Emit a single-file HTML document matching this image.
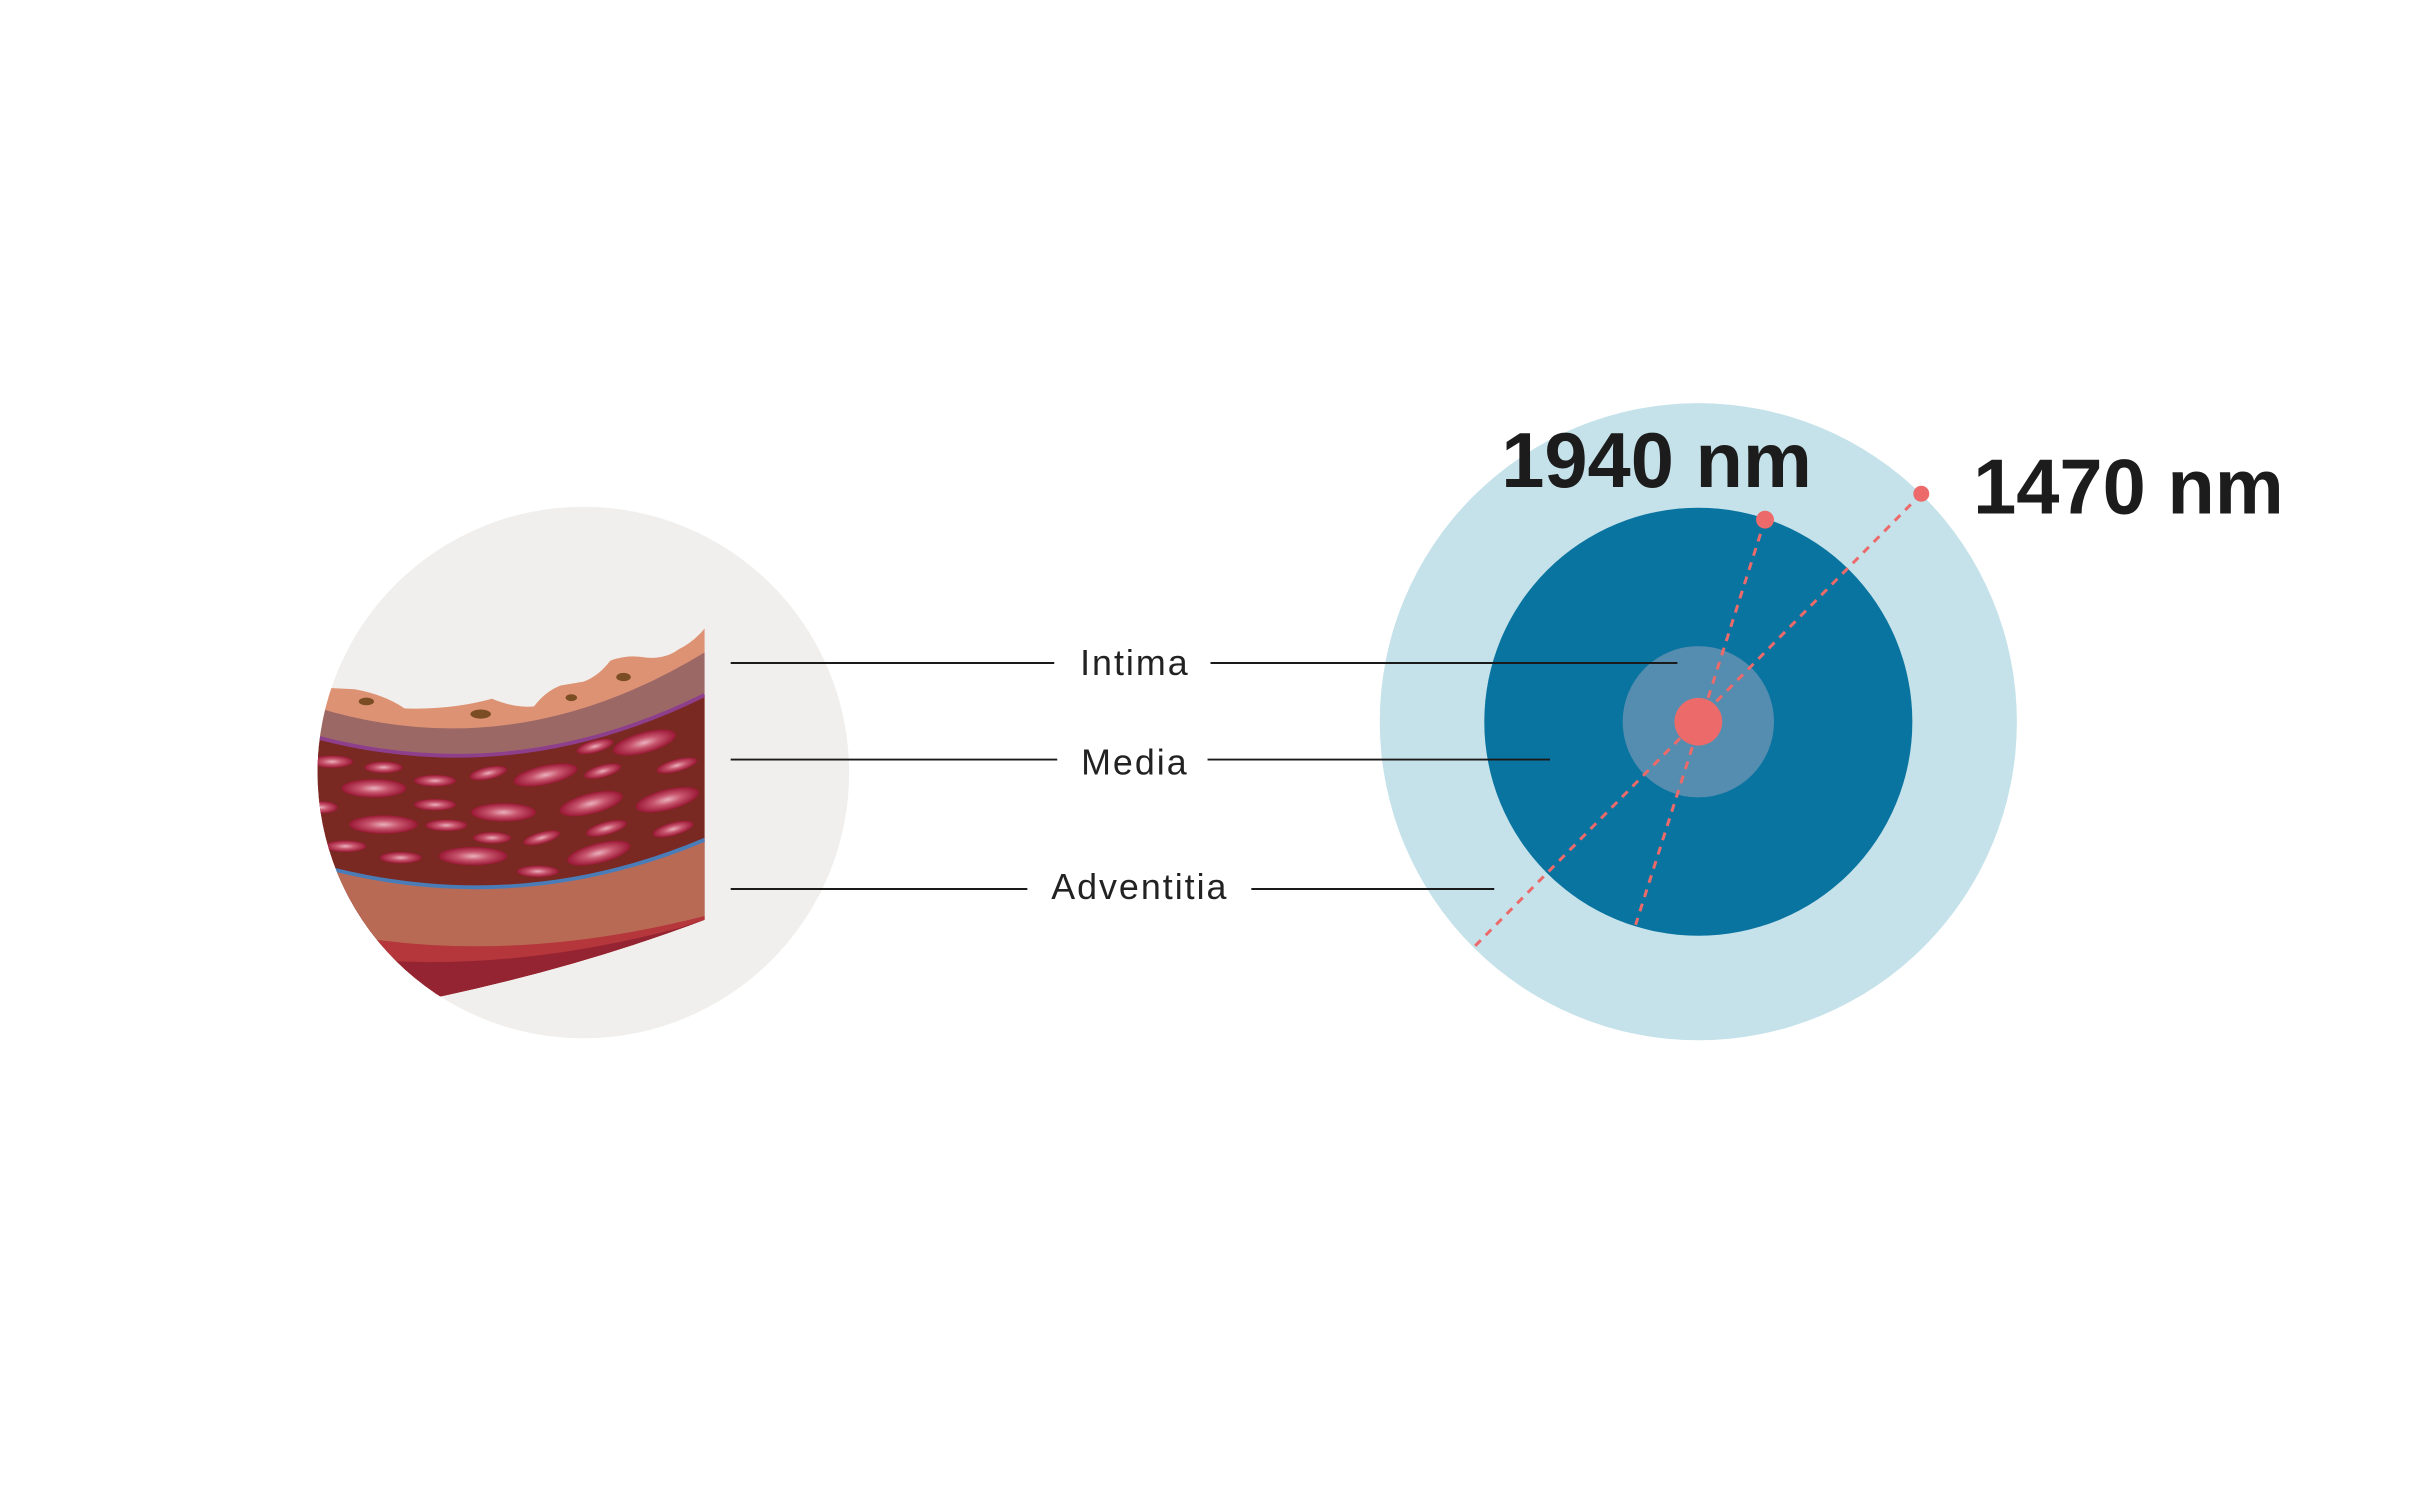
<!DOCTYPE html>
<html><head><meta charset="utf-8"><style>
html,body{margin:0;padding:0;background:#fff;}
svg{display:block;}
</style></head><body>
<svg width="2432" height="1494" viewBox="0 0 2432 1494" xmlns="http://www.w3.org/2000/svg">
<defs>
<radialGradient id="cell" cx="0.5" cy="0.5" r="0.5">
<stop offset="0" stop-color="#eab0bd"/>
<stop offset="0.45" stop-color="#c8566e"/>
<stop offset="1" stop-color="#9a1835"/>
</radialGradient>
<clipPath id="cc2"><circle cx="800" cy="773" r="698"/></clipPath>
<clipPath id="rr"><rect x="0" y="0" width="1118" height="1600"/></clipPath>
</defs>
<rect width="2432" height="1494" fill="#fff"/>
<g transform="scale(0.9955)">
<circle cx="586" cy="776" r="267" fill="#f0efed"/>
<g transform="translate(280,480) scale(0.3827)">
<g clip-path="url(#cc2)">
<g clip-path="url(#rr)">
<path d="M60,550 L100,550 L200,555 Q280,570 330,605 Q450,610 560,580 Q620,605 670,600 Q700,560 740,545 L800,535 Q840,520 870,480 Q910,465 950,470 Q1010,480 1050,450 Q1090,430 1118,395 L1118,1160 Q800,1280 430,1360 L60,1400 Z" fill="#de9274"/>
<path d="M60,590 Q600,774 1118,458 L1118,1160 Q800,1280 430,1360 L60,1400 Z" fill="#9c6866"/>
<path d="M60,670 Q600,827 1118,570 L1118,1160 Q800,1280 430,1360 L60,1400 Z" fill="#7a2822"/>
<path d="M60,670 Q600,827 1118,570" fill="none" stroke="#8e3f8c" stroke-width="10"/>
<g>
<ellipse cx="140" cy="745" rx="55" ry="16" fill="url(#cell)"/>
<ellipse cx="275" cy="760" rx="50" ry="15" fill="url(#cell)"/>
<ellipse cx="250" cy="815" rx="85" ry="24" fill="url(#cell)"/>
<ellipse cx="410" cy="795" rx="55" ry="15" fill="url(#cell)"/>
<ellipse cx="550" cy="775" rx="50" ry="16" transform="rotate(-12 550 775)" fill="url(#cell)"/>
<ellipse cx="700" cy="780" rx="85" ry="25" transform="rotate(-12 700 780)" fill="url(#cell)"/>
<ellipse cx="830" cy="705" rx="50" ry="16" transform="rotate(-15 830 705)" fill="url(#cell)"/>
<ellipse cx="960" cy="695" rx="85" ry="27" transform="rotate(-15 960 695)" fill="url(#cell)"/>
<ellipse cx="850" cy="770" rx="50" ry="16" transform="rotate(-15 850 770)" fill="url(#cell)"/>
<ellipse cx="1045" cy="755" rx="55" ry="16" transform="rotate(-15 1045 755)" fill="url(#cell)"/>
<ellipse cx="110" cy="865" rx="45" ry="16" fill="url(#cell)"/>
<ellipse cx="410" cy="858" rx="55" ry="15" fill="url(#cell)"/>
<ellipse cx="590" cy="878" rx="85" ry="24" fill="url(#cell)"/>
<ellipse cx="820" cy="855" rx="85" ry="27" transform="rotate(-14 820 855)" fill="url(#cell)"/>
<ellipse cx="1020" cy="845" rx="85" ry="27" transform="rotate(-14 1020 845)" fill="url(#cell)"/>
<ellipse cx="275" cy="910" rx="90" ry="24" fill="url(#cell)"/>
<ellipse cx="440" cy="912" rx="55" ry="15" fill="url(#cell)"/>
<ellipse cx="560" cy="945" rx="50" ry="15" fill="url(#cell)"/>
<ellipse cx="690" cy="945" rx="50" ry="15" transform="rotate(-15 690 945)" fill="url(#cell)"/>
<ellipse cx="860" cy="920" rx="55" ry="17" transform="rotate(-15 860 920)" fill="url(#cell)"/>
<ellipse cx="1035" cy="922" rx="55" ry="17" transform="rotate(-15 1035 922)" fill="url(#cell)"/>
<ellipse cx="175" cy="967" rx="55" ry="15" fill="url(#cell)"/>
<ellipse cx="320" cy="997" rx="55" ry="15" fill="url(#cell)"/>
<ellipse cx="510" cy="993" rx="90" ry="24" fill="url(#cell)"/>
<ellipse cx="840" cy="985" rx="85" ry="26" transform="rotate(-14 840 985)" fill="url(#cell)"/>
<ellipse cx="680" cy="1033" rx="55" ry="15" fill="url(#cell)"/>
</g>
<path d="M60,1005 Q600,1168 1118,950 L1118,1160 Q800,1280 430,1360 L60,1400 Z" fill="#b96a55"/>
<path d="M60,1005 Q600,1168 1118,950" fill="none" stroke="#4a7db8" stroke-width="10"/>
<path d="M150,1195 Q600,1282 1118,1150 L1118,1160 Q800,1280 430,1360 L60,1400 Z" fill="#b5363b"/>
<path d="M200,1262 Q600,1300 1050,1182 L1118,1160 Q800,1280 430,1360 L60,1400 Z" fill="#952432"/>
<ellipse cx="230" cy="587" rx="20" ry="10" fill="#7a4e22"/>
<ellipse cx="530" cy="620" rx="27" ry="12" fill="#7a4e22"/>
<ellipse cx="768" cy="577" rx="15" ry="9" fill="#7a4e22"/>
<ellipse cx="905" cy="523" rx="19" ry="11" fill="#7a4e22"/>
</g>
</g>
</g>
<circle cx="1706" cy="725" r="320" fill="#c5e2ea"/>
<circle cx="1706" cy="725" r="215" fill="#0a74a0"/>
<circle cx="1706" cy="725" r="76" fill="#558db0"/>
<g stroke="#ec6a6a" stroke-width="3" stroke-dasharray="8,7" fill="none">
<line x1="1930" y1="496" x2="1481" y2="951"/>
<line x1="1773" y1="522" x2="1643" y2="929"/>
</g>
<circle cx="1706" cy="725" r="24" fill="#ec6a6a"/>
<circle cx="1773" cy="522" r="9" fill="#ec6a6a"/>
<circle cx="1930" cy="496" r="8" fill="#ec6a6a"/>
<g stroke="#1a1a1a" stroke-width="2">
<line x1="734" y1="666" x2="1059" y2="666"/>
<line x1="1216" y1="666" x2="1685" y2="666"/>
<line x1="734" y1="763" x2="1062" y2="763"/>
<line x1="1213" y1="763" x2="1557" y2="763"/>
<line x1="734" y1="893" x2="1032" y2="893"/>
<line x1="1257" y1="893" x2="1501" y2="893"/>
</g>
<g font-family="Liberation Sans, sans-serif" font-size="36" fill="#222" text-anchor="middle" letter-spacing="2">
<text x="1140" y="678">Intima</text>
<text x="1140" y="778">Media</text>
<text x="1145" y="903">Adventitia</text>
</g>
<g font-family="Liberation Sans, sans-serif" font-size="78" font-weight="bold" fill="#1c1c1c" letter-spacing="0">
<text x="1508" y="489">1940 nm</text>
<text x="1982" y="516">1470 nm</text>
</g>
</g>
</svg>
</body></html>
